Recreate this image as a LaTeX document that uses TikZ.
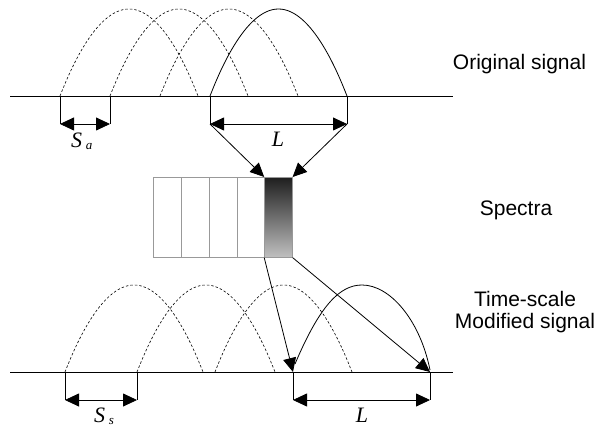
\documentclass[tikz,border=0pt]{standalone}
\usepackage{fontspec}
\setmainfont{Liberation Sans}
\newfontfamily\tnr{Liberation Serif}
\usetikzlibrary{arrows.meta}
\begin{document}
\begin{tikzpicture}[x=1pt,y=-1pt,
  tip/.tip={Triangle[length=14pt,width=13pt]},
  baseline/.style={line width=0.8pt},
  archd/.style={dashed,dash pattern=on 2.5pt off 2pt,line width=0.6pt},
  archs/.style={line width=0.8pt},
  tick/.style={line width=0.8pt},
  dim/.style={line width=0.8pt,{tip}-{tip}},
  conn/.style={line width=0.8pt,-{tip}},
  lbl/.style={font=\fontsize{21}{22}\selectfont,align=center,inner sep=0pt},
  mathlbl/.style={font=\fontsize{22}{22}\selectfont\tnr\itshape,inner sep=0pt},
  cell/.style={draw=gray!80,line width=0.6pt,minimum width=27.8pt,minimum height=80pt,inner sep=0pt}]
\useasboundingbox (0,0) rectangle (599,430);
% top signal
\coordinate (t0) at (10,96); \coordinate (t1) at (453,96);
\draw[baseline] (t0) -- (t1);
\draw[archd] (60,96) parabola bend (129,9) (198,96);
\draw[archd] (110,96) parabola bend (179,9) (248,96);
\draw[archd] (160,96) parabola bend (229,9) (298,96);
\draw[archs] (210,96) parabola bend (278.5,9) (347,96);
\coordinate (sa1) at (60,96); \coordinate (sa2) at (110,96);
\coordinate (sa1b) at (60,124); \coordinate (sa2b) at (110,124);
\coordinate (la1) at (210,96); \coordinate (la2) at (347,96);
\coordinate (la1b) at (210,124); \coordinate (la2b) at (347,124);
\draw[tick] (sa1) -- (sa1b); \draw[tick] (sa2) -- (sa2b);
\draw[tick] (la1) -- (la1b); \draw[tick] (la2) -- (la2b);
\draw[dim] (sa1b) -- (sa2b);
\draw[dim] (la1b) -- (la2b);
\node[mathlbl,anchor=base west] (Sa) at (71,148) {S\,\raisebox{-2pt}{\fontsize{13}{13}\selectfont a}};
\node[mathlbl,anchor=base] (La) at (278,147) {L};
% spectra boxes
\node[cell,anchor=north west] (c1) at (153,177) {};
\node[cell,anchor=north west] (c2) at (181,177) {};
\node[cell,anchor=north west] (c3) at (209,177) {};
\node[cell,anchor=north west] (c4) at (236.5,177) {};
\node[cell,anchor=north west,top color=black!88,bottom color=black!25] (c5) at (264.2,177) {};
\draw[conn] (la1b) -- (c5.north west);
\draw[conn] (la2b) -- (c5.north east);
% bottom signal
\coordinate (b0) at (10,372); \coordinate (b1) at (453,372);
\draw[baseline] (b0) -- (b1);
\draw[archd] (65,372) parabola bend (134,285) (203,372);
\draw[archd] (137,372) parabola bend (206,285) (275,372);
\draw[archd] (215,372) parabola bend (283.5,285) (352,372);
\draw[archs] (295,364) .. controls (320,305) and (340,285) .. (362,285) .. controls (390,285) and (420,320) .. (430,370);
\coordinate (ss1) at (65,372); \coordinate (ss2) at (137,372);
\coordinate (ss1b) at (65,400); \coordinate (ss2b) at (137,400);
\coordinate (lb1) at (293,372); \coordinate (lb2) at (430,372);
\coordinate (lb1b) at (293,400); \coordinate (lb2b) at (430,400);
\draw[tick] (ss1) -- (ss1b); \draw[tick] (ss2) -- (ss2b);
\draw[tick] (lb1) -- (lb1b); \draw[tick] (lb2) -- (lb2b);
\draw[dim] (ss1b) -- (ss2b);
\draw[dim] (lb1b) -- (lb2b);
\node[mathlbl,anchor=base west] (Ss) at (94,422) {S\,\raisebox{-2pt}{\fontsize{13}{13}\selectfont s}};
\node[mathlbl,anchor=base] (Lb) at (362,422) {L};
\draw[conn] (c5.south west) -- (lb1);
\draw[conn] (c5.south east) -- (lb2);
% labels
\node[lbl,anchor=base] (orig) at (519.5,70) {Original signal};
\node[lbl,anchor=base] (spec) at (516,215) {Spectra};
\node[lbl,anchor=base] (tsm) at (525,328) {Time-scale\\Modified signal};
\end{tikzpicture}
\end{document}
